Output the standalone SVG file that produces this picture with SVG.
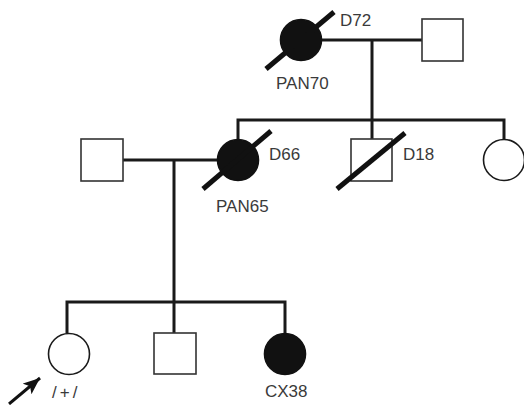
<svg xmlns="http://www.w3.org/2000/svg" width="524" height="405" viewBox="0 0 524 405">
  <style>
    .line { stroke: #1a1a1a; stroke-width: 3; fill: none; }
    .male { fill: #fff; stroke: #333; stroke-width: 1.6; }
    .female { fill: #fff; stroke: #1a1a1a; stroke-width: 1.6; }
    .affected { fill: #111; stroke: #111; stroke-width: 1.6; }
    .dead { stroke: #111; stroke-width: 5; }
    .lbl { font-family: "Liberation Sans", Arial, sans-serif; font-size: 17px; fill: #3a3a3a; }
  </style>
  <defs>
    <marker id="arrowhead" markerWidth="20" markerHeight="16" refX="17" refY="7" orient="auto" markerUnits="userSpaceOnUse">
      <path d="M0,0 L17,7 L0,14 L4,7 Z" fill="#111"/>
    </marker>
  </defs>
  <rect width="524" height="405" fill="#fff"/>

  <!-- connectors -->
  <g id="connectors">
    <path class="line" d="M301,40 H422 M372,40 V120"/>
    <path class="line" d="M238,139 V120 H504 V139 M372,120 V139"/>
    <path class="line" d="M123,160 H238 M174,160 V302"/>
    <path class="line" d="M67,333 V302 H285 V333 M174,302 V333"/>
  </g>

  <!-- generation I -->
  <g id="I1">
    <circle class="affected" cx="301" cy="40" r="20.5"/>
    <line class="dead" x1="266" y1="69" x2="334" y2="12"/>
    <text class="lbl" x="340" y="26">D72</text>
    <text class="lbl" x="276" y="89">PAN70</text>
  </g>
  <g id="I2">
    <rect class="male" x="422" y="19" width="41" height="42"/>
  </g>

  <!-- generation II -->
  <g id="II1">
    <rect class="male" x="81" y="139" width="42" height="42"/>
  </g>
  <g id="II2">
    <circle class="affected" cx="238" cy="160" r="20.5"/>
    <line class="dead" x1="203" y1="189" x2="271" y2="131"/>
    <text class="lbl" x="269" y="160">D66</text>
    <text class="lbl" x="216" y="212">PAN65</text>
  </g>
  <g id="II3">
    <rect class="male" x="351" y="139" width="41" height="42"/>
    <line class="dead" x1="337" y1="189" x2="405" y2="133"/>
    <text class="lbl" x="403" y="160">D18</text>
  </g>
  <g id="II4">
    <circle class="female" cx="504" cy="160" r="20.5"/>
  </g>

  <!-- generation III -->
  <g id="III1">
    <circle class="female" cx="69" cy="354" r="20.5"/>
    <text class="lbl" x="52" y="398" letter-spacing="3">/+/</text>
    <line x1="9" y1="404" x2="40" y2="378" stroke="#111" stroke-width="3" marker-end="url(#arrowhead)"/>
  </g>
  <g id="III2">
    <rect class="male" x="154" y="333" width="42" height="41"/>
  </g>
  <g id="III3">
    <circle class="affected" cx="285" cy="354" r="20.5"/>
    <text class="lbl" x="265" y="397">CX38</text>
  </g>
</svg>
